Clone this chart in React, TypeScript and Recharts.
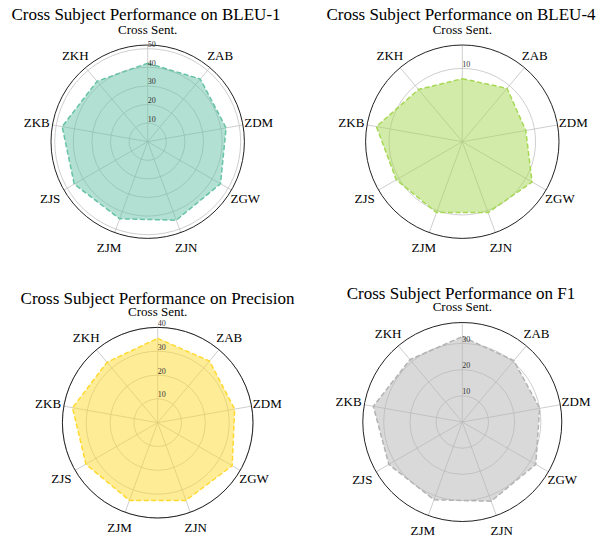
import { RadarChart, Radar, PolarGrid, PolarAngleAxis, PolarRadiusAxis } from 'recharts'

const categories = ['Cross Sent.', 'ZAB', 'ZDM', 'ZGW', 'ZJN', 'ZJM', 'ZJS', 'ZKB', 'ZKH']
const bleu1 = [42.2, 44.0, 42.8, 45.2, 44.9, 44.1, 45.6, 46.7, 42.4]
const bleu4 = [8.6, 9.5, 8.8, 11.0, 10.3, 10.3, 10.4, 11.9, 9.3]
const precision = [35.4, 33.8, 32.8, 36.1, 34.7, 34.7, 34.8, 36.3, 33.1]
const f1 = [32.6, 30.6, 30.0, 32.4, 32.2, 31.6, 32.4, 34.5, 31.1]

const bleu1Ticks = [10, 20, 30, 40, 50]
const bleu4Ticks = [10]
const precisionTicks = [10, 20, 30, 40]
const f1Ticks = [10, 20, 30]

const W = 604
const H = 537
const FONT = '"Liberation Serif", "Times New Roman", serif'

const panels = [
  { title: 'Cross Subject Performance on BLEU-1', values: bleu1, ticks: bleu1Ticks, max: 51.6, color: '#66c2a5', cx: 147.7, cy: 141.7, r: 96.7, titleX: 146, titleY: 20 },
  { title: 'Cross Subject Performance on BLEU-4', values: bleu4, ticks: bleu4Ticks, max: 13.2, color: '#a6d854', cx: 462.3, cy: 141.7, r: 96.7, titleX: 461, titleY: 20 },
  { title: 'Cross Subject Performance on Precision', values: precision, ticks: precisionTicks, max: 40, color: '#ffd92f', cx: 157.7, cy: 422.7, r: 95.3, titleX: 157.5, titleY: 303.5 },
  { title: 'Cross Subject Performance on F1', values: f1, ticks: f1Ticks, max: 37.6, color: '#b3b3b3', cx: 462.3, cy: 422, r: 99.5, titleX: 461, titleY: 298.5 },
]

function Panel({ p }: { p: (typeof panels)[number] }) {
  const data = categories.map((c, i) => ({ subject: c, value: p.values[i] }))

  const angleTick = (props: any) => {
    const { x, y, payload } = props
    const a = Math.atan2(y - p.cy, x - p.cx)
    const rr = p.r + 16
    return (
      <text
        x={p.cx + rr * Math.cos(a)}
        y={p.cy + rr * Math.sin(a)}
        textAnchor="middle"
        dominantBaseline="central"
        style={{ fontFamily: FONT, fontSize: 13 }}
        fill="#000"
      >
        {payload.value}
      </text>
    )
  }

  const radiusTick = (props: any) => {
    const { x, y, payload } = props
    return (
      <text x={x + 4} y={y - 1.5} textAnchor="middle" style={{ fontFamily: FONT, fontSize: 8 }} fill="#333">
        {payload.value}
      </text>
    )
  }

  return (
    <div style={{ position: 'absolute', left: 0, top: 0 }}>
      <RadarChart width={W} height={H} data={data} cx={p.cx} cy={p.cy} outerRadius={p.r} margin={{ top: 0, right: 0, bottom: 0, left: 0 }}>
        <PolarGrid gridType="circle" stroke="#c2c2c2" strokeWidth={0.8} />
        <PolarAngleAxis
          dataKey="subject"
          axisLineType="circle"
          axisLine={{ stroke: '#222', strokeWidth: 1 }}
          tickLine={false}
          tick={angleTick}
        />
        <PolarRadiusAxis
          domain={[0, p.max]}
          ticks={p.ticks}
          angle={90}
          axisLine={false}
          tickLine={false}
          tick={radiusTick}
        />
        <Radar
          dataKey="value"
          stroke={p.color}
          strokeWidth={1.5}
          strokeDasharray="5 2.5"
          fill={p.color}
          fillOpacity={0.5}
          dot={false}
          isAnimationActive={false}
        />
      </RadarChart>
    </div>
  )
}

export default function App() {
  return (
    <div style={{ position: 'absolute', left: 0, top: 0, width: W, height: H, background: '#fff' }}>
      {panels.map((p) => (
        <Panel key={p.title} p={p} />
      ))}
      <svg width={W} height={H} style={{ position: 'absolute', left: 0, top: 0, pointerEvents: 'none' }}>
        {panels.map((p) => (
          <text key={p.title} x={p.titleX} y={p.titleY} textAnchor="middle" style={{ fontFamily: FONT, fontSize: 17 }} fill="#000">
            {p.title}
          </text>
        ))}
      </svg>
    </div>
  )
}
